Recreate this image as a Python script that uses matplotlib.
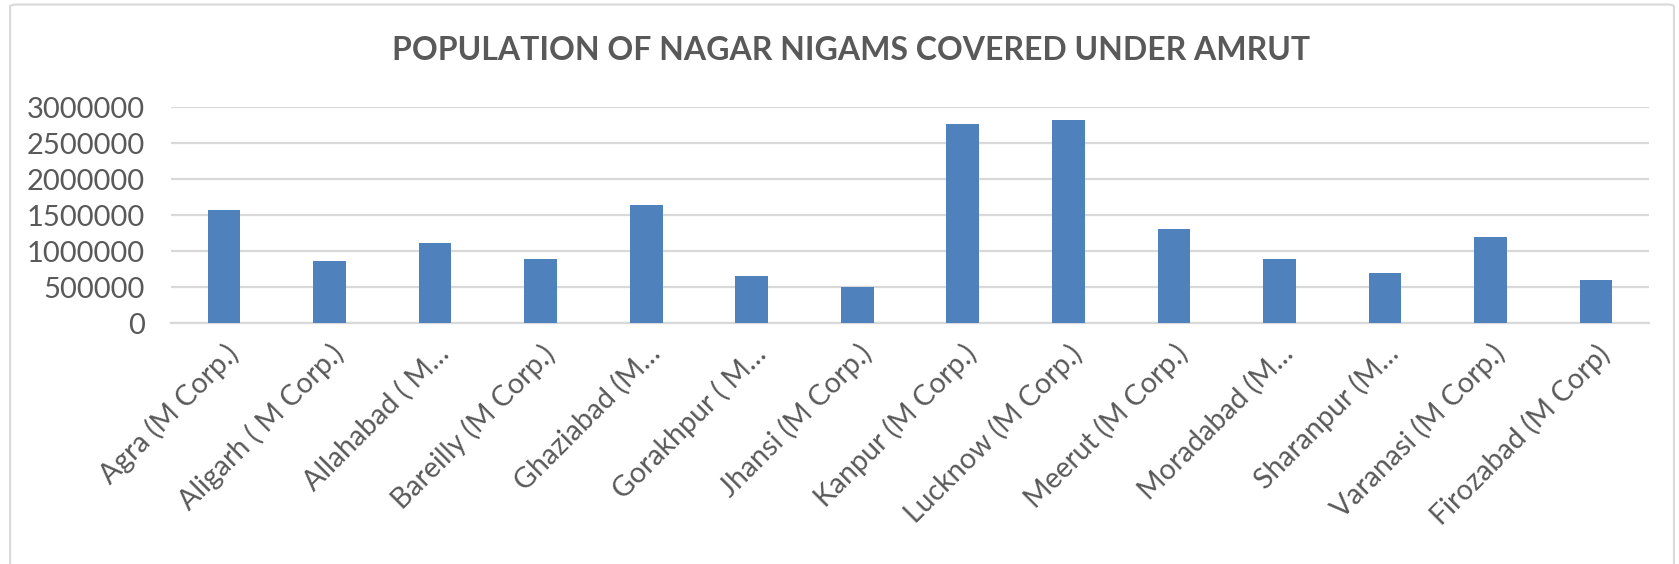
import matplotlib.pyplot as plt
from matplotlib.patches import FancyBboxPatch

# data
cities = ["Agra (M Corp.)", "Aligarh ( M Corp.)", "Allahabad ( M\u2026",
          "Bareilly (M Corp.)", "Ghaziabad (M\u2026", "Gorakhpur ( M\u2026",
          "Jhansi (M Corp.)", "Kanpur (M Corp.)", "Lucknow (M Corp.)",
          "Meerut (M Corp.)", "Moradabad (M\u2026", "Sharanpur (M\u2026",
          "Varanasi (M Corp.)", "Firozabad (M Corp)"]
population = [1575000, 867000, 1111000, 894000, 1644000, 662000,
              500000, 2769000, 2815000, 1306000, 885000, 694000,
              1194000, 593000]
yticks = [0, 500000, 1000000, 1500000, 2000000, 2500000, 3000000]

grey = "#595959"
plt.rcParams['font.family'] = ['Lato', 'DejaVu Sans']

fig = plt.figure(figsize=(16.79, 5.64), dpi=100)

# chart area border
border = FancyBboxPatch((0.006, -0.05), 0.991, 1.042,
                        boxstyle="round,pad=0,rounding_size=0.004",
                        transform=fig.transFigure, fill=False,
                        edgecolor="#D9D9D9", linewidth=1.5)
fig.patches.append(border)

ax = fig.add_axes([0.102, 0.427, 0.880, 0.383])
x = range(len(cities))
ax.bar(x, population, width=0.31, color="#4F81BD", zorder=3)

ax.set_xlim(-0.5, len(cities) - 0.5)
ax.set_ylim(0, 3000000)
ax.set_yticks(yticks)
ax.set_yticklabels([str(v) for v in yticks])
ax.set_xticks(list(x))
ax.set_xticklabels(cities, rotation=45, ha="right", rotation_mode="anchor")

ax.yaxis.grid(True, color="#D9D9D9", linewidth=1.6, zorder=0)
ax.set_axisbelow(True)
for s in ax.spines.values():
    s.set_visible(False)
ax.axhline(0, color="#D9D9D9", linewidth=1.6, zorder=1, clip_on=False)
ax.tick_params(axis="both", length=0, colors=grey)
ax.tick_params(axis="y", pad=19, labelsize=21)
ax.tick_params(axis="x", pad=12, labelsize=20.5)

fig.text(0.507, 0.91, "POPULATION OF NAGAR NIGAMS COVERED UNDER AMRUT",
         ha="center", va="center", fontsize=23, fontweight="bold", color=grey)

fig.savefig("out.png", dpi=100)
